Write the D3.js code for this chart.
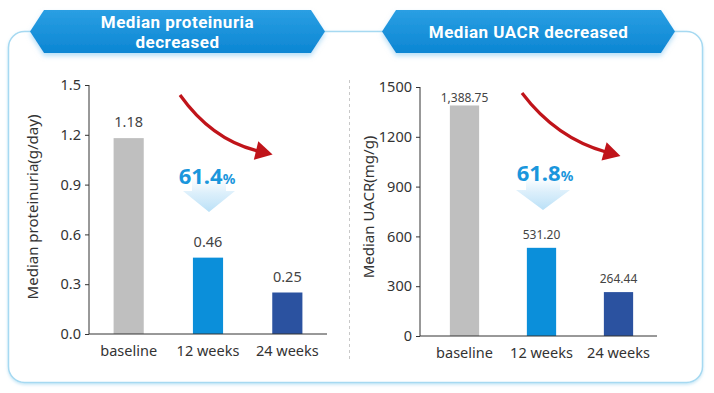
<!DOCTYPE html>
<html><head><meta charset="utf-8">
<script src="https://cdn.jsdelivr.net/npm/d3@7"></script>
<style>body{margin:0;background:#fff;} svg{display:block;font-family:"Noto Sans",sans-serif;}</style>
</head><body><svg id="c" width="714" height="393"></svg>
<script>
const categories = ["baseline", "12 weeks", "24 weeks"];
const proteinuria = [1.18, 0.46, 0.25];
const uacr = [1388.75, 531.20, 264.44];
const proteinuriaTicks = [0, 0.3, 0.6, 0.9, 1.2, 1.5];
const uacrTicks = [0, 300, 600, 900, 1200, 1500];
const barColors = ["#bfbfbf", "#0b8fda", "#2b52a0"];
const titleLines = [["Median proteinuria", "decreased"], ["Median UACR decreased"]];
const yTitles = ["Median proteinuria(g/day)", "Median UACR(mg/g)"];
const reductions = ["61.4", "61.8"];

const svg = d3.select("#c");
const defs = svg.append("defs");
const bg = defs.append("linearGradient").attr("id","bann").attr("x1",0).attr("y1",0).attr("x2",0).attr("y2",1);
bg.append("stop").attr("offset","0%").attr("stop-color","#2a9fe3");
bg.append("stop").attr("offset","100%").attr("stop-color","#0c86d3");
const ag = defs.append("linearGradient").attr("id","chev").attr("x1",0).attr("y1",0).attr("x2",0).attr("y2",1);
ag.append("stop").attr("offset","0%").attr("stop-color","#d6ecfa").attr("stop-opacity",0);
ag.append("stop").attr("offset","45%").attr("stop-color","#d3ebfa").attr("stop-opacity",0.8);
ag.append("stop").attr("offset","100%").attr("stop-color","#b9e0f7");
const sh = defs.append("filter").attr("id","sh").attr("x","-10%").attr("y","-20%").attr("width","120%").attr("height","160%");
sh.append("feDropShadow").attr("dx",0).attr("dy",3).attr("stdDeviation",2.5).attr("flood-color","#7cc3ee").attr("flood-opacity",0.55);
const psh = defs.append("filter").attr("id","psh").attr("x","-5%").attr("y","-5%").attr("width","110%").attr("height","110%");
psh.append("feDropShadow").attr("dx",0).attr("dy",1.5).attr("stdDeviation",1.5).attr("flood-color","#bfe3f5").attr("flood-opacity",0.9);

// panel border
svg.append("rect").attr("x",8.5).attr("y",31.5).attr("width",694).attr("height",351)
  .attr("rx",16).attr("fill","#fff").attr("stroke","#a6d9f1").attr("stroke-width",1.5).attr("filter","url(#psh)");

// separator
svg.append("line").attr("x1",349.5).attr("x2",349.5).attr("y1",80).attr("y2",360)
  .attr("stroke","#c8c8c8").attr("stroke-dasharray","3,3");

// banners
function banner(x0, x1, lines) {
  const yT = 10, yB = 53, yM = 31.5, ind = 14;
  svg.append("path").attr("d", `M${x0},${yM}L${x0+ind},${yT}L${x1-ind},${yT}L${x1},${yM}L${x1-ind},${yB}L${x0+ind},${yB}Z`)
    .attr("fill","url(#bann)").attr("filter","url(#sh)");
  const cx = (x0 + x1) / 2;
  const t = svg.append("text").attr("text-anchor","middle").attr("fill","#fff")
    .attr("font-size",17).attr("font-weight",700).attr("letter-spacing",0.5).attr("font-family","Roboto, sans-serif");
  if (lines.length === 1) {
    t.append("tspan").attr("x",cx).attr("y",yM+6).text(lines[0]);
  } else {
    t.append("tspan").attr("x",cx).attr("y",yM-4).text(lines[0]);
    t.append("tspan").attr("x",cx).attr("y",yM+16).text(lines[1]);
  }
}
banner(30, 325, titleLines[0]);
banner(382, 675, titleLines[1]);

function redArrow(x0,y0,cx,cy,x1,y1){
  const p = d3.path(); p.moveTo(x0,y0); p.quadraticCurveTo(cx,cy,x1,y1);
  svg.append("path").attr("d",p.toString()).attr("fill","none").attr("stroke","#c0141a").attr("stroke-width",3.2);
  const a = Math.atan2(y1-cy, x1-cx), L = 17, W = 9.5;
  const ux = Math.cos(a), uy = Math.sin(a);
  const bx = x1 - ux*2, by = y1 - uy*2;
  const tip = [bx+ux*L, by+uy*L], l = [bx - uy*W, by + ux*W], r = [bx + uy*W, by - ux*W];
  svg.append("path").attr("d",`M${tip}L${l}L${r}Z`).attr("fill","#c0141a");
}

function chevron(cx, top, headTop, tip, sw, hw){
  svg.append("path").attr("d",
    `M${cx-sw},${top}L${cx+sw},${top}L${cx+sw},${headTop}L${cx+hw},${headTop}L${cx},${tip}L${cx-hw},${headTop}L${cx-sw},${headTop}Z`)
    .attr("fill","url(#chev)");
}

function pct(cx, y, val){
  const t = svg.append("text").attr("x",cx).attr("y",y).attr("text-anchor","middle")
    .attr("fill","#1a96dc").attr("font-weight",700).attr("font-size",22);
  t.append("tspan").text(val);
  t.append("tspan").attr("font-size",14).text("%");
}

function chart(cfg){
  const x = d3.scaleBand().domain(categories).range(cfg.xr).paddingInner(0.62).paddingOuter(0.31);
  const y = d3.scaleLinear().domain([0, d3.max(cfg.ticks)]).range(cfg.yr);
  const g = svg.append("g");
  // bars
  g.selectAll("rect.bar").data(cfg.values).enter().append("rect")
    .attr("x",(d,i)=>x(categories[i])).attr("width",x.bandwidth())
    .attr("y",d=>y(d)).attr("height",d=>y(0)-y(d)).attr("fill",(d,i)=>barColors[i]);
  // labels
  g.selectAll("text.val").data(cfg.values).enter().append("text")
    .attr("x",(d,i)=>x(categories[i])+x.bandwidth()/2)
    .attr("y",d=>Math.max(y(d)-cfg.lo, cfg.yr[1]+15))
    .attr("text-anchor","middle").attr("fill","#444").attr("font-size",cfg.lfs)
    .text(d=>cfg.lfmt(d));
  // y axis
  const ya = g.append("g").attr("transform",`translate(${cfg.ax},0)`)
    .call(d3.axisLeft(y).tickValues(cfg.ticks).tickFormat(cfg.tfmt).tickSize(4).tickPadding(4));
  ya.select(".domain").attr("stroke","#333").attr("d",`M0,${y(0)}V${cfg.yr[1]}`);
  ya.selectAll(".tick line").attr("stroke","#333");
  ya.selectAll(".tick text").attr("font-size",14.5).attr("fill","#333").attr("font-family","Noto Sans, sans-serif");
  // x axis
  const xa = g.append("g").attr("transform",`translate(0,${y(0)})`)
    .call(d3.axisBottom(x).tickSize(0).tickPadding(12));
  xa.select(".domain").attr("stroke","#333").attr("d",`M${cfg.ax},0H${cfg.xr[1]}`);
  xa.selectAll(".tick text").attr("font-size",14.5).attr("fill","#333").attr("font-family","Noto Sans, sans-serif");
  // y title
  g.append("text").attr("transform",`translate(${cfg.tx},${cfg.ty}) rotate(-90)`)
    .attr("text-anchor","middle").attr("font-size",15).attr("fill","#333").text(cfg.title);
}

chart({values: proteinuria, ticks: proteinuriaTicks, xr:[89,327], yr:[334,85], ax:89,
  lfmt: d3.format(".2f"), tfmt: d3.format(".1f"), lfs: 14.5, lo: 11, title: yTitles[0], tx: 38, ty: 207});
chart({values: uacr, ticks: uacrTicks, xr:[426,657], yr:[336,87], ax:420,
  lfmt: d3.format(",.2f"), tfmt: d3.format("d"), lfs: 12, lo: 9, title: yTitles[1], tx: 374, ty: 207});

redArrow(180,95, 212,140, 258,151);
redArrow(522,93, 556,138, 606,152);

chevron(209, 178, 191, 212, 17, 26);
chevron(543, 177, 190, 210, 17, 27);
pct(207, 184, reductions[0]);
pct(545, 181, reductions[1]);
</script></body></html>
